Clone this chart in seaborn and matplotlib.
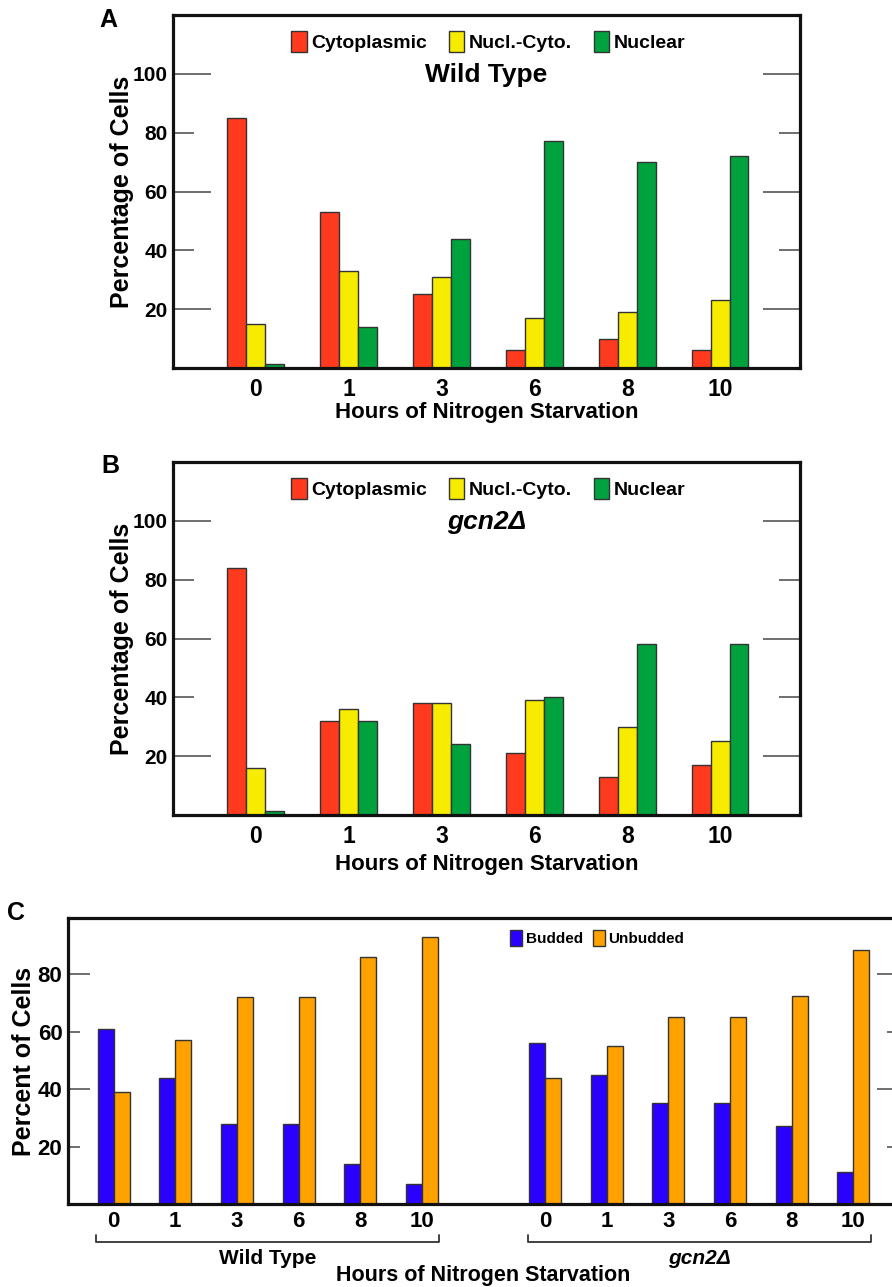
import matplotlib
matplotlib.use('Agg')
import matplotlib.pyplot as plt
import matplotlib.transforms as mtransforms
from matplotlib.patches import Patch
import seaborn as sns
import pandas as pd

# data
hours = ['0', '1', '3', '6', '8', '10']
locations = ['Cytoplasmic', 'Nucl.-Cyto.', 'Nuclear']

wt_cyto = [85, 53, 25, 6, 10, 6]
wt_nuclcyto = [15, 33, 31, 17, 19, 23]
wt_nuclear = [1.5, 14, 44, 77, 70, 72]

gcn2_cyto = [84, 32, 38, 21, 13, 17]
gcn2_nuclcyto = [16, 36, 38, 39, 30, 25]
gcn2_nuclear = [1.5, 32, 24, 40, 58, 58]

bud_states = ['Budded', 'Unbudded']
wt_budded = [61, 44, 28, 28, 14, 7]
wt_unbudded = [39, 57, 72, 72, 86, 93]
gcn2_budded = [56, 45, 35, 35, 27, 11]
gcn2_unbudded = [44, 55, 65, 65, 72.5, 88.5]

loc_colors = ['#FF3A1F', '#F7EB00', '#00A23E']
bud_colors = ['#2A00FF', '#FFA200']

sns.set_theme(style='white')
plt.rcParams['font.family'] = ['Liberation Sans', 'DejaVu Sans']
plt.rcParams['font.weight'] = 'bold'
plt.rcParams['axes.labelweight'] = 'bold'
plt.rcParams['text.color'] = 'black'
plt.rcParams['axes.labelcolor'] = 'black'
plt.rcParams['xtick.labelcolor'] = 'black'
plt.rcParams['ytick.labelcolor'] = 'black'

W, H = 892, 1287
fig = plt.figure(figsize=(W / 100, H / 100), dpi=100)


def px_axes(left, right, top, bottom):
    return fig.add_axes([left / W, 1 - bottom / H, (right - left) / W, (bottom - top) / H])


def long_form(groups, names, values):
    rows = []
    for name, vals in zip(names, values):
        for g, v in zip(groups, vals):
            rows.append({'group': g, 'kind': name, 'pct': v})
    return pd.DataFrame(rows)


def frame_axes(ax):
    for sp in ax.spines.values():
        sp.set_visible(True)
        sp.set_linewidth(2.3)
        sp.set_color('#111111')


# alternating long / short inward ticks on both sides
def style_yticks(ax, long_vals, long_len, short_len):
    ax.tick_params(axis='y', direction='in', left=True, right=True, labelright=False,
                   width=1.2, color='#555555', pad=4)
    for tick, val in zip(ax.yaxis.get_major_ticks(), ax.get_yticks()):
        size = long_len if val in long_vals else short_len
        tick.tick1line.set_markersize(size)
        tick.tick2line.set_markersize(size)


def localization_panel(ax, cyto, nuclcyto, nuclear, title, italic, xlab_y):
    df = long_form(hours, locations, [cyto, nuclcyto, nuclear])
    sns.barplot(data=df, x='group', y='pct', hue='kind', order=hours, hue_order=locations,
                palette=loc_colors, width=0.61, errorbar=None, edgecolor='#333333',
                linewidth=1.0, saturation=1, legend=False, ax=ax)
    ax.set_xlim(-0.89, 5.86)
    ax.set_ylim(0, 120)
    ax.set_yticks([20, 40, 60, 80, 100])
    ax.tick_params(axis='y', labelsize=15)
    ax.tick_params(axis='x', length=0, labelsize=16.5, pad=7)
    frame_axes(ax)
    style_yticks(ax, [20, 60, 100], 27, 15)
    ax.set_ylabel('Percentage of Cells', fontsize=18, labelpad=-1)
    ax.set_xlabel('Hours of Nitrogen Starvation', fontsize=16)
    ax.xaxis.set_label_coords(0.5, xlab_y)
    handles = [Patch(facecolor=c, edgecolor='#333333', linewidth=1.0) for c in loc_colors]
    ax.legend(handles, locations, loc='center', bbox_to_anchor=(0.503, 0.925), ncol=3,
              frameon=False, prop={'weight': 'bold', 'size': 14}, handlelength=0.8,
              handleheight=1.25, handletextpad=0.25, columnspacing=1.1)
    ax.text(0.5, 0.83, title, transform=ax.transAxes, ha='center', va='center',
            fontsize=19, fontweight='bold', style='italic' if italic else 'normal')
    for lab in ax.get_xticklabels() + ax.get_yticklabels():
        lab.set_fontweight('bold')


ax_a = px_axes(173, 800, 15, 368)
localization_panel(ax_a, wt_cyto, wt_nuclcyto, wt_nuclear, 'Wild Type', False, -0.095)

ax_b = px_axes(173, 800, 462, 815)
localization_panel(ax_b, gcn2_cyto, gcn2_nuclcyto, gcn2_nuclear, 'gcn2\u0394', True, -0.11)

# panel C: budding, two strains side by side with a blank slot between
ax_c = px_axes(68, 899, 918, 1204)
wt_groups = ['WT ' + h for h in hours]
gcn2_groups = ['gcn2 ' + h for h in hours]
order_c = wt_groups + [' '] + gcn2_groups
df_c = pd.concat([
    long_form(wt_groups, bud_states, [wt_budded, wt_unbudded]),
    long_form(gcn2_groups, bud_states, [gcn2_budded, gcn2_unbudded]),
])
sns.barplot(data=df_c, x='group', y='pct', hue='kind', order=order_c, hue_order=bud_states,
            palette=bud_colors, width=0.52, errorbar=None, edgecolor='#333333',
            linewidth=1.0, saturation=1, legend=False, ax=ax_c)
ax_c.set_xlim(-0.74, 12.74)
ax_c.set_ylim(0, 99.5)
ax_c.set_yticks([20, 40, 60, 80])
ax_c.set_xticks(range(len(order_c)), labels=hours + [''] + hours)
ax_c.tick_params(axis='y', labelsize=16)
ax_c.tick_params(axis='x', length=0, labelsize=16, pad=5)
frame_axes(ax_c)
style_yticks(ax_c, [40, 80], 16, 8.5)
ax_c.set_ylabel('Percent of Cells', fontsize=18, labelpad=1)
ax_c.set_xlabel('Hours of Nitrogen Starvation', fontsize=15.5)
ax_c.xaxis.set_label_coords(0.5, -0.214)
for lab in ax_c.get_xticklabels() + ax_c.get_yticklabels():
    lab.set_fontweight('bold')
bud_handles = [Patch(facecolor=c, edgecolor='#333333', linewidth=1.0) for c in bud_colors]
ax_c.legend(bud_handles, bud_states, loc='center', bbox_to_anchor=(0.637, 0.93), ncol=2,
            frameon=False, prop={'weight': 'bold', 'size': 11}, handlelength=0.8,
            handleheight=1.2, handletextpad=0.25, columnspacing=0.6)

# brackets under each strain
trans = mtransforms.blended_transform_factory(ax_c.transData, ax_c.transAxes)
for start, label, italic in [(0, 'Wild Type', False), (7, 'gcn2\u0394', True)]:
    x0, x1 = start - 0.28, start + 5 + 0.28
    ax_c.plot([x0, x0, x1, x1], [-0.11, -0.133, -0.133, -0.11], transform=trans,
              color='#333333', lw=1.3, clip_on=False)
    ax_c.text(start + 2.5, -0.192, label, transform=trans, ha='center', va='center',
              fontsize=15, fontweight='bold', style='italic' if italic else 'normal')

# panel letters
for letter, x, y in [('A', 108, 20), ('B', 110, 466), ('C', 16, 913)]:
    fig.text(x / W, 1 - y / H, letter, ha='center', va='center', fontsize=18, fontweight='bold')

fig.savefig('out.png', dpi=100, facecolor='white')
